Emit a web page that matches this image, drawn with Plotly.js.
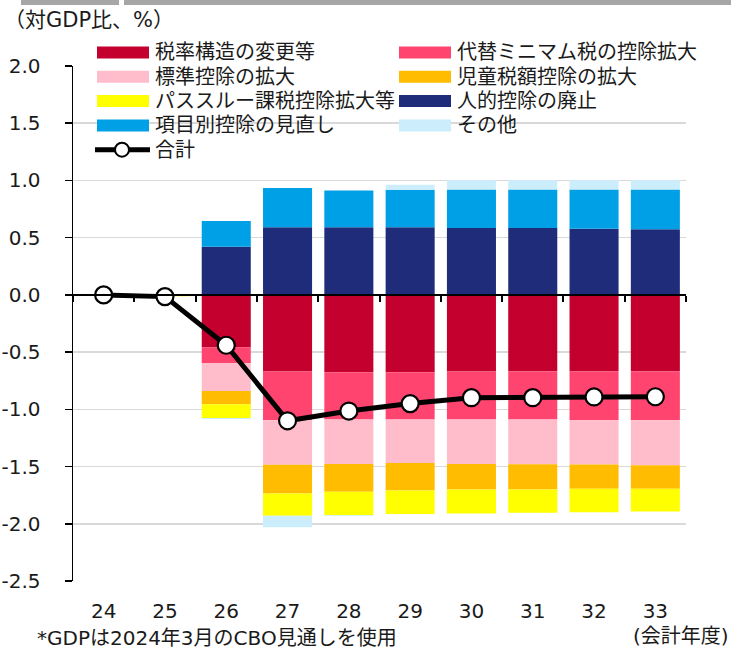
<!DOCTYPE html>
<html>
<head>
<meta charset="utf-8">
<script src="https://cdn.plot.ly/plotly-3.0.1.min.js"></script>
<style>
  html, body { margin: 0; padding: 0; background: #fff; }
  #chart { width: 731px; height: 650px; }
</style>
</head>
<body>
<div id="chart"></div>
<script>
// ---- Data ----
const years = ['24', '25', '26', '27', '28', '29', '30', '31', '32', '33'];

const seriesNames = [
  '税率構造の変更等',
  '代替ミニマム税の控除拡大',
  '標準控除の拡大',
  '児童税額控除の拡大',
  'パススルー課税控除拡大等',
  '人的控除の廃止',
  '項目別控除の見直し',
  'その他'
];
const totalName = '合計';

const rateStructure = [0, 0, -0.46, -0.67, -0.675, -0.675, -0.67, -0.667, -0.667, -0.667];
const amtDeduction  = [0, 0, -0.135, -0.425, -0.413, -0.413, -0.418, -0.421, -0.429, -0.429];
const stdDeduction  = [0, 0, -0.245, -0.39, -0.39, -0.382, -0.39, -0.392, -0.386, -0.392];
const childCredit   = [0, 0, -0.115, -0.25, -0.243, -0.24, -0.223, -0.22, -0.211, -0.205];
const passThrough   = [0, -0.012, -0.12, -0.195, -0.204, -0.205, -0.21, -0.204, -0.207, -0.199];
const personalExem  = [0, 0, 0.42, 0.59, 0.59, 0.59, 0.585, 0.585, 0.579, 0.573];
const itemized      = [0, 0, 0.225, 0.345, 0.322, 0.328, 0.336, 0.336, 0.342, 0.348];
const others        = [0, 0, -0.01, -0.10, -0.006, 0.044, 0.08, 0.08, 0.08, 0.08];
const total         = [0, -0.015, -0.44, -1.10, -1.015, -0.95, -0.898, -0.898, -0.892, -0.89];

const yTickVals = [2.0, 1.5, 1.0, 0.5, 0.0, -0.5, -1.0, -1.5, -2.0, -2.5];
const yTickText = ['2.0', '1.5', '1.0', '0.5', '0.0', '-0.5', '-1.0', '-1.5', '-2.0', '-2.5'];

// ---- Styles ----
const colors = ['#C4002F', '#FF4470', '#FFBDCC', '#FFBC00', '#FFFF00', '#1F2C7A', '#00A0E6', '#CCEEFC'];
const FONT = 'DejaVu Sans, "Noto Sans CJK JP", sans-serif';
const TXT = '#1a1a1a';

const seriesValues = [rateStructure, amtDeduction, stdDeduction, childCredit, passThrough, personalExem, itemized, others];

const traces = seriesValues.map((vals, i) => ({
  type: 'bar',
  name: seriesNames[i],
  x: years,
  y: vals,
  xaxis: 'x',
  yaxis: 'y',
  marker: { color: colors[i], line: { width: 0 } },
  showlegend: false,
  hoverinfo: 'x+y+name'
}));

traces.push({
  type: 'scatter',
  mode: 'lines+markers',
  name: totalName,
  x: years,
  y: total,
  xaxis: 'x2',
  yaxis: 'y',
  line: { color: '#000', width: 5 },
  marker: { size: 17, color: '#fff', line: { color: '#000', width: 2.2 } },
  showlegend: false
});

// plot area in pixels: left 73, right 686, top 66, bottom 581
const L = 73, R = 686, T = 66, B = 581;
const fx = p => (p - L) / (R - L);
const fy = p => (B - p) / (B - T);

const shapes = [];
const annotations = [];

// top grey strips
shapes.push({ type: 'rect', xref: 'paper', yref: 'paper', x0: fx(21), x1: fx(119), y0: fy(5), y1: fy(-2), fillcolor: '#A6A6A6', line: { width: 0 } });
shapes.push({ type: 'rect', xref: 'paper', yref: 'paper', x0: fx(124), x1: fx(735), y0: fy(5), y1: fy(-2), fillcolor: '#A6A6A6', line: { width: 0 } });

// manual legend (2 columns)
const colSwatchX = [97, 399];
const colTextX = [153, 455];
seriesNames.forEach((nm, i) => {
  const row = Math.floor(i / 2), col = i % 2;
  const cy = 52.5 + 24.3 * row;
  shapes.push({
    type: 'rect', xref: 'paper', yref: 'paper',
    x0: fx(colSwatchX[col]), x1: fx(colSwatchX[col] + 52),
    y0: fy(cy + 6), y1: fy(cy - 6),
    fillcolor: colors[i], line: { width: 0 }
  });
  annotations.push({
    xref: 'paper', yref: 'paper', x: fx(colTextX[col]), y: fy(cy),
    xanchor: 'left', yanchor: 'middle', showarrow: false,
    text: nm, font: { family: FONT, size: 20, color: TXT }
  });
});
// total legend entry
const tcy = 52.5 + 24.3 * 4;
shapes.push({ type: 'line', xref: 'paper', yref: 'paper', x0: fx(95), x1: fx(150), y0: fy(tcy), y1: fy(tcy), line: { color: '#000', width: 5 } });
shapes.push({ type: 'circle', xref: 'paper', yref: 'paper', x0: fx(115), x1: fx(129), y0: fy(tcy + 7), y1: fy(tcy - 7), fillcolor: '#fff', line: { color: '#000', width: 2 } });
annotations.push({
  xref: 'paper', yref: 'paper', x: fx(153), y: fy(tcy),
  xanchor: 'left', yanchor: 'middle', showarrow: false,
  text: totalName, font: { family: FONT, size: 20, color: TXT }
});

// unit label
annotations.push({
  xref: 'paper', yref: 'paper', x: fx(2), y: fy(20),
  xanchor: 'left', yanchor: 'middle', showarrow: false,
  text: '（対GDP比、%）', font: { family: FONT, size: 21, color: TXT }
});
// fiscal-year label
annotations.push({
  xref: 'paper', yref: 'paper', x: fx(731), y: fy(636),
  xanchor: 'right', yanchor: 'middle', showarrow: false,
  text: '(会計年度)', font: { family: FONT, size: 20, color: TXT }
});
// footnote
annotations.push({
  xref: 'paper', yref: 'paper', x: fx(35), y: fy(638),
  xanchor: 'left', yanchor: 'middle', showarrow: false,
  text: '*GDPは2024年3月のCBO見通しを使用', font: { family: FONT, size: 20, color: TXT }
});

const layout = {
  width: 731,
  height: 650,
  margin: { l: L, r: 731 - R, t: T, b: 650 - B, pad: 0 },
  paper_bgcolor: '#fff',
  plot_bgcolor: '#fff',
  barmode: 'relative',
  bargap: 0.2,
  showlegend: false,
  font: { family: FONT, size: 20, color: TXT },
  xaxis: {
    type: 'category',
    categoryorder: 'array',
    categoryarray: years,
    range: [-0.5, 9.5],
    showline: false,
    showgrid: false,
    zeroline: false,
    ticks: '',
    tickfont: { family: FONT, size: 20, color: TXT },
    ticklabelstandoff: 16,
    fixedrange: true
  },
  xaxis2: {
    type: 'category',
    categoryorder: 'array',
    categoryarray: years,
    range: [-0.5, 9.5],
    overlaying: 'x',
    anchor: 'free',
    position: 2.5 / 4.5,
    side: 'bottom',
    showline: true,
    linecolor: '#000',
    linewidth: 2,
    ticks: 'outside',
    tickson: 'boundaries',
    ticklen: 6,
    tickwidth: 2,
    tickcolor: '#000',
    showticklabels: false,
    showgrid: false,
    zeroline: false,
    layer: 'above traces',
    fixedrange: true
  },
  yaxis: {
    range: [-2.5, 2.0],
    tickmode: 'array',
    tickvals: yTickVals,
    ticktext: yTickText,
    showline: true,
    linecolor: '#000',
    linewidth: 1.5,
    ticks: 'outside',
    ticklen: 7,
    tickwidth: 1.5,
    tickcolor: '#000',
    showgrid: true,
    gridcolor: '#D9D9D9',
    gridwidth: 1.5,
    zeroline: false,
    tickfont: { family: FONT, size: 20, color: TXT },
    ticklabelstandoff: 20,
    fixedrange: true
  },
  shapes: shapes,
  annotations: annotations
};

Plotly.newPlot('chart', traces, layout, { displayModeBar: false, staticPlot: true });
</script>
</body>
</html>
